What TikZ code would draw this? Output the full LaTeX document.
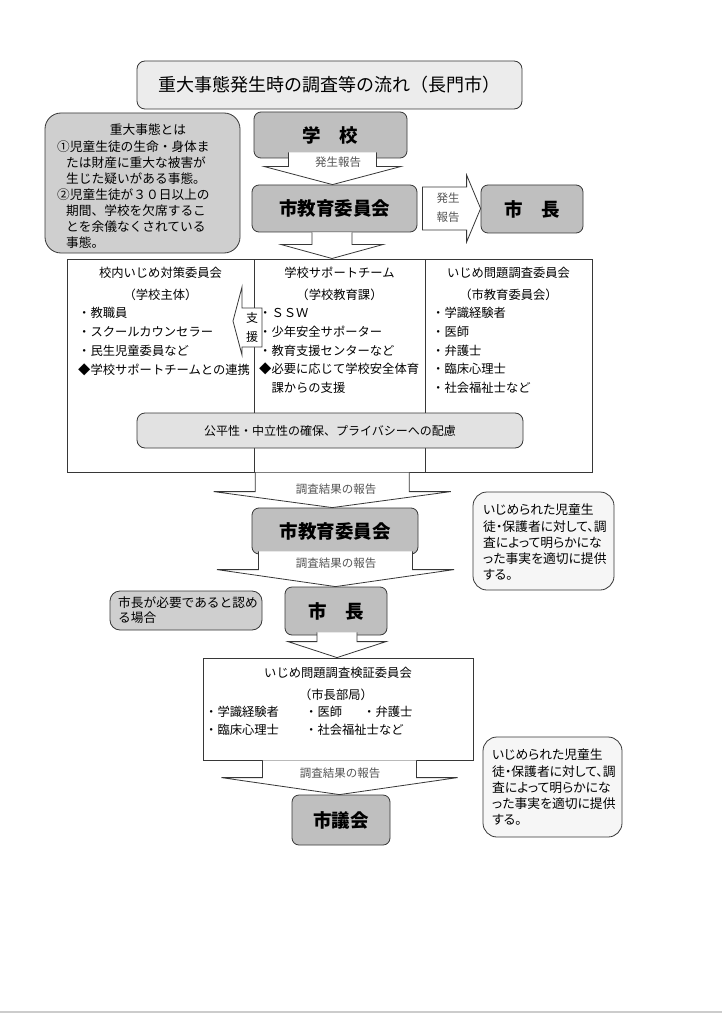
\documentclass[tikz,border=0pt]{standalone}
\usepackage{fontspec}
\setmainfont{Noto Sans CJK JP}
\usetikzlibrary{calc,fit}
\definecolor{boxcol}{RGB}{191,191,191}
\definecolor{notecol}{RGB}{207,207,207}
\definecolor{titlecol}{RGB}{236,236,236}
\definecolor{barcol}{RGB}{226,226,226}
\definecolor{palecol}{RGB}{246,246,246}
\definecolor{linecol}{RGB}{55,55,55}
\definecolor{labelcol}{RGB}{85,85,85}
\tikzset{
  base/.style={draw=linecol,line width=0.8pt,inner sep=0pt},
  bx/.style={base,fill=boxcol,rounded corners=7pt,font=\fontsize{18.5}{22}\selectfont\bfseries},
  ttl/.style={base,fill=titlecol,rounded corners=8pt,font=\fontsize{18}{22}\selectfont},
  notebox/.style={base,fill=notecol,rounded corners=10pt},
  pale/.style={base,fill=palecol,rounded corners=14pt},
  bar/.style={base,fill=barcol,rounded corners=8pt,font=\fontsize{12}{14}\selectfont},
  col/.style={draw=linecol,line width=0.6pt,minimum height=213,inner sep=0pt},
  hd/.style={inner sep=0pt,font=\fontsize{12.3}{14}\selectfont},
  item/.style={anchor=west,inner sep=0pt,font=\fontsize{12.3}{14}\selectfont},
  tx/.style={anchor=west,inner sep=0pt,font=\fontsize{12.7}{14}\selectfont},
  ptx/.style={anchor=west,inner sep=0pt,font=\fontsize{12.8}{15}\selectfont\addfontfeatures{RawFeature=+palt}},
  lbl/.style={inner sep=0pt,text=labelcol,font=\fontsize{11.5}{13}\selectfont},
  blk/.style={draw=linecol,line width=0.8pt,fill=white,line join=miter}
}
\newcommand{\flowdown}[6]{%
  \draw[blk] let \p1=(#1.south), \p2=(#2.north), \p3=($(#1.south)!.5!(#2.north)$) in
    (\x3-#3pt,\y1+#6pt) -- (\x3-#3pt,\y2+#5pt) -- (\x3-#4pt,\y2+#5pt) -- (\x3,\y2)
    -- (\x3+#4pt,\y2+#5pt) -- (\x3+#3pt,\y2+#5pt) -- (\x3+#3pt,\y1+#6pt);}
\newcommand{\flowright}[6]{%
  \draw[blk] let \p1=(#1.east), \p2=(#2.west) in
    (\x1+#6pt,\y1+#3pt) -- (\x2-#5pt,\y1+#3pt) -- (\x2-#5pt,\y1+#4pt) -- (\x2,\y1)
    -- (\x2-#5pt,\y1-#4pt) -- (\x2-#5pt,\y1-#3pt) -- (\x1+#6pt,\y1-#3pt) -- cycle;}

\begin{document}
\begin{tikzpicture}[x=1pt,y=-1pt]
  \fill[white] (0,0) rectangle (722,1024);
  \useasboundingbox (0,0) rectangle (722,1024);
  \node[ttl,minimum width=385,minimum height=48] (title) at (329.5,85) {重大事態発生時の調査等の流れ（長門市）};

  \node[notebox,rounded corners=16pt,minimum width=195,minimum height=140] (define) at (142.5,183) {};
  \node[hd,font=\fontsize{12.7}{14}\selectfont] (definehd) at (148,130) {重大事態とは};
  \foreach \px/\t [count=\i] in {57/①児童生徒の生命・身体ま,66/たは財産に重大な被害が,66/生じた疑いがある事態。,57/②児童生徒が３０日以上の,66/期間、学校を欠席するこ,66/とを余儀なくされている,66/事態。}
    \node[tx] (def\i) at (\px,{131+16*\i}) {\t};

  \node[bx,minimum width=153,minimum height=46] (school) at (330.5,135) {学\quad 校};
  \node[bx,minimum width=165,minimum height=47] (boe) at (334.5,208.5) {市教育委員会};
  \node[bx,minimum width=102,minimum height=48] (mayor) at (532,209) {市\quad 長};

  \node[col,minimum width=187] (colA) at (160.5,365.5) {};
  \node[col,minimum width=171] (colB) at (339.5,365.5) {};
  \node[col,minimum width=167] (colC) at (508.5,365.5) {};
  \node[fit=(colA)(colC),inner sep=0pt] (panel) {};
  \node[hd] (hdA) at (160.5,273) {校内いじめ対策委員会};  \node[hd] (subA) at (160.5,295) {（学校主体）};
  \node[hd] (hdB) at (339.5,273) {学校サポートチーム};    \node[hd] (subB) at (339.5,295) {（学校教育課）};
  \node[hd] (hdC) at (508.5,273) {いじめ問題調査委員会};  \node[hd] (subC) at (508.5,295) {（市教育委員会）};
  \foreach \t [count=\i] in {・教職員,・スクールカウンセラー,・民生児童委員など,◆学校サポートチームとの連携}
    \node[item] (itA\i) at (78,{294+19*\i}) {\t};
  \foreach \t [count=\i] in {・ＳＳＷ,・少年安全サポーター,・教育支援センターなど,◆必要に応じて学校安全体育,\hspace*{1em}課からの支援}
    \node[item] (itB\i) at (259,{294+18.8*\i}) {\t};
  \foreach \t [count=\i] in {・学識経験者,・医師,・弁護士,・臨床心理士,・社会福祉士など}
    \node[item] (itC\i) at (432,{294+18.8*\i}) {\t};
  \coordinate (aidtip) at (233,321);
  \draw[blk] (aidtip) -- ++(9,-34) -- ++(0,21) -- ++(20,0) -- ++(0,39) -- ++(-20,0) -- ++(0,8) -- cycle;
  \node[hd,align=center,font=\fontsize{12}{19}\selectfont] (aid) at (252,327.5) {支\\援};
  \node[bar,minimum width=386,minimum height=35] (fair) at (330,430.5) {公平性・中立性の確保、プライバシーへの配慮};

  \node[bx,minimum width=166,minimum height=46] (boe2) at (335,531) {市教育委員会};
  \node[pale,minimum width=141,minimum height=98] (inform) at (543.5,541) {};
  \foreach \t [count=\i] in {いじめられた児童生,徒・保護者に対して、調,査によって明らかにな,った事実を適切に提供,する。}
    \node[ptx] (inf\i) at (483,{493.7+16.3*\i}) {\t};
  \node[bx,minimum width=102,minimum height=48] (mayor2) at (336,611) {市\quad 長};
  \node[notebox,minimum width=152,minimum height=39] (cond) at (186,610.5) {};
  \node[tx] (cond1) at (118,603) {市長が必要であると認め};
  \node[tx] (cond2) at (118,617.5) {る場合};

  \node[base,fill=white,minimum width=270,minimum height=102] (verify) at (338,709) {};
  \node[hd] (hdV) at (338,673) {いじめ問題調査検証委員会};
  \node[hd] (subV) at (336,695) {（市長部局）};
  \foreach \px/\py/\t [count=\i] in {205/712/・学識経験者,305/712/・医師,363/712/・弁護士,205/730/・臨床心理士,305/730/・社会福祉士など}
    \node[item] (itV\i) at (\px,\py) {\t};
  \node[bx,minimum width=98,minimum height=50] (council) at (341,820) {市議会};
  \node[pale,minimum width=139,minimum height=100] (inform2) at (552.5,787) {};
  \foreach \t [count=\i] in {いじめられた児童生,徒・保護者に対して、調,査によって明らかにな,った事実を適切に提供,する。}
    \node[ptx] (infb\i) at (492,{738.75+16.25*\i}) {\t};

  \flowdown{school}{boe}{44}{68}{18}{6}
  \flowright{boe}{mayor}{21.5}{33.5}{14}{5}
  \flowdown{boe}{panel}{20}{51}{14}{0}
  \flowdown{panel}{boe2}{77}{118.5}{16}{0}
  \flowdown{boe2}{mayor2}{77}{118.5}{17}{3}
  \flowdown{mayor2}{verify}{20}{49}{16}{3}
  \flowdown{verify}{council}{77}{118}{17}{0}
  \node[lbl] (rep1) at (338,162) {発生報告};
  \node[lbl,align=center,font=\fontsize{11.5}{19}\selectfont] (rep2) at (448,207.5) {発生\\報告};
  \node[lbl] (res1) at (336,489) {調査結果の報告};
  \node[lbl] (res2) at (336,563) {調査結果の報告};
  \node[lbl] (res3) at (340,773) {調査結果の報告};

  \draw[gray!40,line width=2.5pt] (0,1012) -- (722,1012);
\end{tikzpicture}
\end{document}
